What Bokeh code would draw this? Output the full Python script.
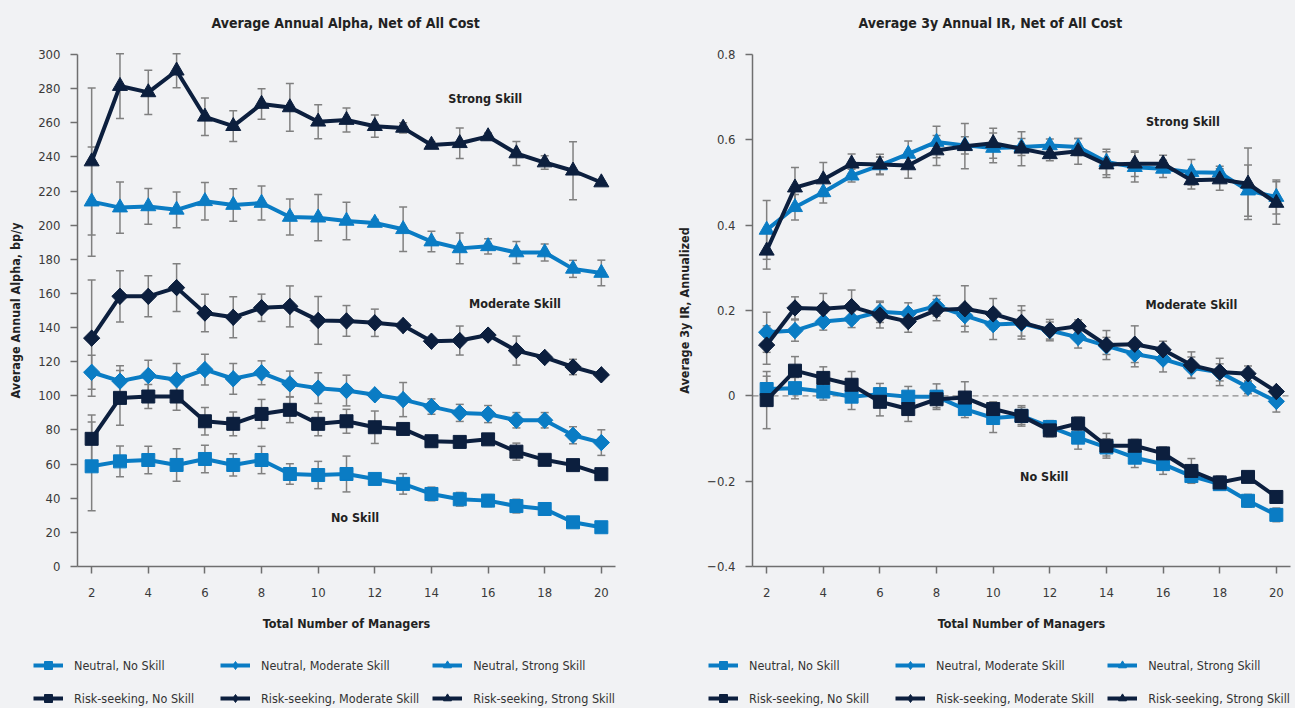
import numpy as np
from bokeh.plotting import figure
from bokeh.models import (ColumnDataSource, Whisker, Legend, LegendItem, Label,
                          FixedTicker, Range1d, TeeHead)
from bokeh.layouts import row
from bokeh.embed import file_html
from bokeh.resources import INLINE

# ---------------- data ----------------
managers = list(range(2, 21))

series_names = ["Neutral, No Skill", "Neutral, Moderate Skill", "Neutral, Strong Skill",
                "Risk-seeking, No Skill", "Risk-seeking, Moderate Skill", "Risk-seeking, Strong Skill"]

# Average annual alpha (bp/y)
alpha_n_no = [58.7, 61.6, 62.4, 59.5, 63.0, 59.5, 62.4, 54.2, 53.6, 54.2, 51.3, 48.4, 42.5, 39.4, 38.6, 35.4, 33.7, 25.9, 23.0]
alpha_n_no_err = [26, 9, 8, 9.5, 8, 6.5, 8, 6, 8, 10.5, 2, 6, 4, 4, 3.5, 4, 1.5, 1, 1]
alpha_n_mod = [113.8, 108.6, 111.9, 109.4, 115.4, 110.0, 113.5, 107.0, 104.5, 103.1, 100.6, 97.8, 93.7, 90.0, 89.3, 85.7, 85.7, 76.9, 72.6]
alpha_n_mod_err = [10, 9, 9, 9.5, 9, 9, 7, 7.5, 9, 9, 2, 10, 4.5, 5, 5, 4.5, 4.5, 5, 7.5]
alpha_n_str = [213.8, 210.3, 211.0, 209.0, 214.0, 211.8, 213.0, 204.8, 204.4, 202.5, 201.3, 197.6, 190.4, 186.4, 187.6, 184.0, 184.0, 174.4, 172.0]
alpha_n_str_err = [32, 15, 10.5, 10.5, 11, 9.5, 10, 10.5, 13.5, 11, 2, 13, 6, 9, 4.5, 6.5, 5, 5, 7.5]
alpha_rs_no = [74.8, 98.8, 99.6, 99.6, 85.1, 83.6, 89.4, 91.8, 83.6, 85.1, 81.6, 80.6, 73.4, 73.0, 74.5, 67.3, 62.5, 59.4, 54.1]
alpha_rs_no_err = [14, 16, 7, 8, 8, 7, 8.5, 7.5, 7, 7, 9.5, 2, 2, 2, 2, 5, 1, 1, 1]
alpha_rs_mod = [133.8, 158.3, 158.3, 163.4, 148.5, 146.0, 151.6, 152.4, 144.2, 143.9, 142.8, 141.2, 132.0, 132.4, 135.6, 126.5, 122.5, 116.9, 112.3]
alpha_rs_mod_err = [34, 15, 12, 14, 11, 12, 8, 12, 14, 9, 8, 2, 2, 8.5, 2, 8.5, 2, 4.5, 1]
alpha_rs_str = [237.3, 281.5, 277.8, 290.5, 263.5, 258.0, 271.0, 269.0, 260.6, 261.6, 258.0, 257.0, 247.0, 248.0, 252.0, 242.0, 236.7, 231.9, 225.0]
alpha_rs_str_err = [43, 19, 13, 10, 11, 9, 9, 14, 10, 7, 6.5, 3, 2, 9, 2, 7, 4, 17, 1]

# Average 3y annual IR
ir_n_no = [0.016, 0.018, 0.010, -0.002, 0.004, -0.002, -0.002, -0.031, -0.052, -0.047, -0.073, -0.098, -0.121, -0.145, -0.160, -0.188, -0.207, -0.246, -0.279]
ir_n_no_err = [0.03, 0.025, 0.02, 0.03, 0.025, 0.024, 0.03, 0.02, 0.034, 0.02, 0.015, 0.027, 0.02, 0.023, 0.024, 0.015, 0.012, 0.015, 0.016]
ir_n_mod = [0.149, 0.153, 0.174, 0.180, 0.197, 0.193, 0.211, 0.188, 0.167, 0.170, 0.153, 0.137, 0.117, 0.098, 0.086, 0.066, 0.055, 0.020, -0.013]
ir_n_mod_err = [0.047, 0.025, 0.02, 0.02, 0.025, 0.025, 0.024, 0.025, 0.035, 0.03, 0.02, 0.025, 0.02, 0.03, 0.03, 0.025, 0.02, 0.015, 0.025]
ir_n_str = [0.389, 0.442, 0.477, 0.516, 0.540, 0.567, 0.595, 0.587, 0.581, 0.583, 0.587, 0.583, 0.548, 0.536, 0.532, 0.524, 0.523, 0.481, 0.466]
ir_n_str_err = [0.069, 0.03, 0.025, 0.015, 0.02, 0.03, 0.037, 0.02, 0.035, 0.02, 0.015, 0.02, 0.03, 0.035, 0.02, 0.03, 0.015, 0.06, 0.04]
ir_rs_no = [-0.010, 0.059, 0.042, 0.026, -0.014, -0.031, -0.008, -0.004, -0.031, -0.047, -0.081, -0.065, -0.117, -0.117, -0.135, -0.176, -0.203, -0.190, -0.237]
ir_rs_no_err = [0.067, 0.033, 0.026, 0.031, 0.033, 0.029, 0.02, 0.037, 0.017, 0.024, 0.015, 0.015, 0.029, 0.015, 0.015, 0.029, 0.015, 0.01, 0.01]
ir_rs_mod = [0.119, 0.206, 0.204, 0.209, 0.189, 0.174, 0.201, 0.204, 0.192, 0.172, 0.154, 0.163, 0.119, 0.121, 0.108, 0.072, 0.056, 0.052, 0.010]
ir_rs_mod_err = [0.045, 0.026, 0.036, 0.039, 0.03, 0.025, 0.025, 0.054, 0.036, 0.039, 0.025, 0.015, 0.034, 0.043, 0.02, 0.031, 0.032, 0.018, 0.01]
ir_rs_str = [0.340, 0.488, 0.507, 0.544, 0.542, 0.540, 0.575, 0.585, 0.592, 0.579, 0.566, 0.573, 0.542, 0.544, 0.544, 0.505, 0.507, 0.497, 0.452]
ir_rs_str_err = [0.043, 0.047, 0.04, 0.023, 0.024, 0.03, 0.035, 0.053, 0.035, 0.04, 0.015, 0.03, 0.03, 0.03, 0.02, 0.02, 0.025, 0.084, 0.05]

x_bounds = (1.5, 20.5)
x_ticks = [2, 4, 6, 8, 10, 12, 14, 16, 18, 20]
alpha_bounds = (0, 300)
alpha_ticks = [0, 20, 40, 60, 80, 100, 120, 140, 160, 180, 200, 220, 240, 260, 280, 300]
ir_bounds = (-0.4, 0.8)
ir_ticks = [-0.4, -0.2, 0.0, 0.2, 0.4, 0.6, 0.8]
ir_tick_labels = ["\u22120.4", "\u22120.2", "0", "0.2", "0.4", "0.6", "0.8"]

# ---------------- style / layout ----------------
FONT = "'DejaVu Sans Condensed', 'Liberation Sans Narrow', Roboto, sans-serif"
BG = "#f1f2f4"
LIGHT = "#0a7cc4"
DARK = "#0c1f3e"
GRAY = "#808080"
AXIS = "#6f6f6f"
TEXT = "#222222"

H = 708          # figure height
TOP = 34         # pixels above the frame (title area)
AX_TOP = 54      # pixels from figure top to the top of the y axis
AX_LEFT = 77     # pixels from figure edge to the y axis
PLOT_W = 538     # pixels of the x-axis extent
PLOT_H = 512     # pixels of the y-axis extent

# colour, plot marker, angle, size, legend marker
styles = [
    (LIGHT, "square", 0.0, 13, "square"),
    (LIGHT, "square", np.pi / 4, 11.5, "diamond"),
    (LIGHT, "triangle", 0.0, 15, "triangle"),
    (DARK, "square", 0.0, 13, "square"),
    (DARK, "square", np.pi / 4, 11.5, "diamond"),
    (DARK, "triangle", 0.0, 15, "triangle"),
]
legend_order = [0, 3, 1, 4, 2, 5]   # fills column by column -> rows: Neutral / Risk-seeking


def make_panel(title, title_offset, ylabel, ybounds, yticks, ylabels, values, errs, notes,
               zero_line, width):
    sx = PLOT_W / (x_bounds[1] - x_bounds[0])
    sy = PLOT_H / (ybounds[1] - ybounds[0])
    xr = Range1d(x_bounds[0] - AX_LEFT / sx, x_bounds[0] + (width - AX_LEFT) / sx)
    yr = Range1d(ybounds[0] - (H - AX_TOP - PLOT_H) / sy, ybounds[1] + (AX_TOP - TOP) / sy)

    p = figure(width=width, height=H, output_backend="svg", toolbar_location=None,
               x_range=xr, y_range=yr,
               min_border_left=0, min_border_right=0, min_border_top=TOP,
               min_border_bottom=0, background_fill_color=BG, border_fill_color=BG,
               outline_line_color=None)
    p.title.text = title
    p.title.align = "left"
    p.title.offset = title_offset
    p.title.standoff = 7
    p.title.text_font = FONT
    p.title.text_font_size = "14px"
    p.title.text_font_style = "bold"
    p.title.text_color = TEXT
    p.grid.visible = False

    for ax in (p.xaxis[0], p.yaxis[0]):
        ax.axis_line_color = AXIS
        ax.axis_line_width = 1.5
        ax.major_tick_line_color = AXIS
        ax.major_tick_line_width = 1.5
        ax.major_tick_in = 0
        ax.major_tick_out = 7
        ax.minor_tick_line_color = None
        ax.major_label_text_font = FONT
        ax.major_label_text_font_size = "13px"
        ax.major_label_text_color = "#3a3a3a"
        ax.axis_label_text_font = FONT
        ax.axis_label_text_font_size = "12.5px"
        ax.axis_label_text_font_style = "bold"
        ax.axis_label_text_color = TEXT
    p.xaxis.ticker = FixedTicker(ticks=x_ticks)
    p.xaxis.bounds = x_bounds
    p.xaxis.fixed_location = ybounds[0]
    p.xaxis.axis_label = "Total Number of Managers"
    p.xaxis.major_label_standoff = 14
    p.xaxis.axis_label_standoff = 16
    p.yaxis.ticker = FixedTicker(ticks=yticks)
    p.yaxis.bounds = ybounds
    p.yaxis.fixed_location = x_bounds[0]
    p.yaxis.axis_label = ylabel
    p.yaxis.major_label_standoff = 10
    p.yaxis.axis_label_standoff = 12
    if ylabels is not None:
        p.yaxis.major_label_overrides = {t: s for t, s in zip(yticks, ylabels)}

    if zero_line:
        p.segment(x0=[x_bounds[0]], y0=[0], x1=[x_bounds[1]], y1=[0], line_color="#8a8a8a",
                  line_width=1.2, line_dash="6 4", level="underlay")

    items = []
    for name, vals, err, (col, mk, ang, sz, lmk) in zip(series_names, values, errs, styles):
        v = np.array(vals)
        e = np.array(err)
        src = ColumnDataSource(dict(x=managers, y=v, upper=v + e, lower=v - e))
        wh = Whisker(source=src, base="x", upper="upper", lower="lower",
                     line_color=GRAY, line_width=1.5, level="underlay",
                     upper_head=TeeHead(size=8, line_color=GRAY, line_width=1.5),
                     lower_head=TeeHead(size=8, line_color=GRAY, line_width=1.5))
        p.add_layout(wh)
        ln = p.line("x", "y", source=src, line_color=col, line_width=4)
        key = None
        if lmk != mk:
            # legend key: a narrow diamond that sits entirely inside the rotated square
            key = p.scatter("x", "y", source=src, marker=lmk, size=16,
                            fill_color=col, line_color=col)
        sc = p.scatter("x", "y", source=src, marker=mk, angle=ang, size=sz,
                       fill_color=col, line_color=col)
        items.append(LegendItem(label=name, renderers=[ln, key if key is not None else sc]))

    for txt, x, y in notes:
        p.add_layout(Label(x=x, y=y, text=txt, text_align="center", text_baseline="middle",
                           text_font=FONT, text_font_size="12.5px", text_font_style="bold",
                           text_color=TEXT))

    leg = Legend(items=[items[i] for i in legend_order], ncols=3, location=(33, 0),
                 label_text_font=FONT, label_text_font_size="12.5px", label_text_color="#333333",
                 glyph_width=30, glyph_height=20, label_standoff=11, spacing=13,
                 label_width=133, padding=0, margin=0, border_line_color=None,
                 background_fill_alpha=0)
    p.add_layout(leg, "center")
    return p


left = make_panel(
    "Average Annual Alpha, Net of All Cost", 211, "Average Annual Alpha, bp/y", alpha_bounds,
    alpha_ticks, None,
    [alpha_n_no, alpha_n_mod, alpha_n_str, alpha_rs_no, alpha_rs_mod, alpha_rs_str],
    [alpha_n_no_err, alpha_n_mod_err, alpha_n_str_err, alpha_rs_no_err, alpha_rs_mod_err, alpha_rs_str_err],
    [("Strong Skill", 15.9, 274), ("Moderate Skill", 16.95, 154), ("No Skill", 11.3, 28.5)],
    False, 675)

right = make_panel(
    "Average 3y Annual IR, Net of All Cost", 183, "Average 3y IR, Annualized", ir_bounds,
    ir_ticks, ir_tick_labels,
    [ir_n_no, ir_n_mod, ir_n_str, ir_rs_no, ir_rs_mod, ir_rs_str],
    [ir_n_no_err, ir_n_mod_err, ir_n_str_err, ir_rs_no_err, ir_rs_mod_err, ir_rs_str_err],
    [("Strong Skill", 16.7, 0.644), ("Moderate Skill", 17.0, 0.215), ("No Skill", 11.8, -0.19)],
    True, 620)

layout = row(left, right)
html = file_html(layout, INLINE)
html = html.replace("<body>", f'<body style="background-color:{BG};">')
open("out.html", "w").write(html)
